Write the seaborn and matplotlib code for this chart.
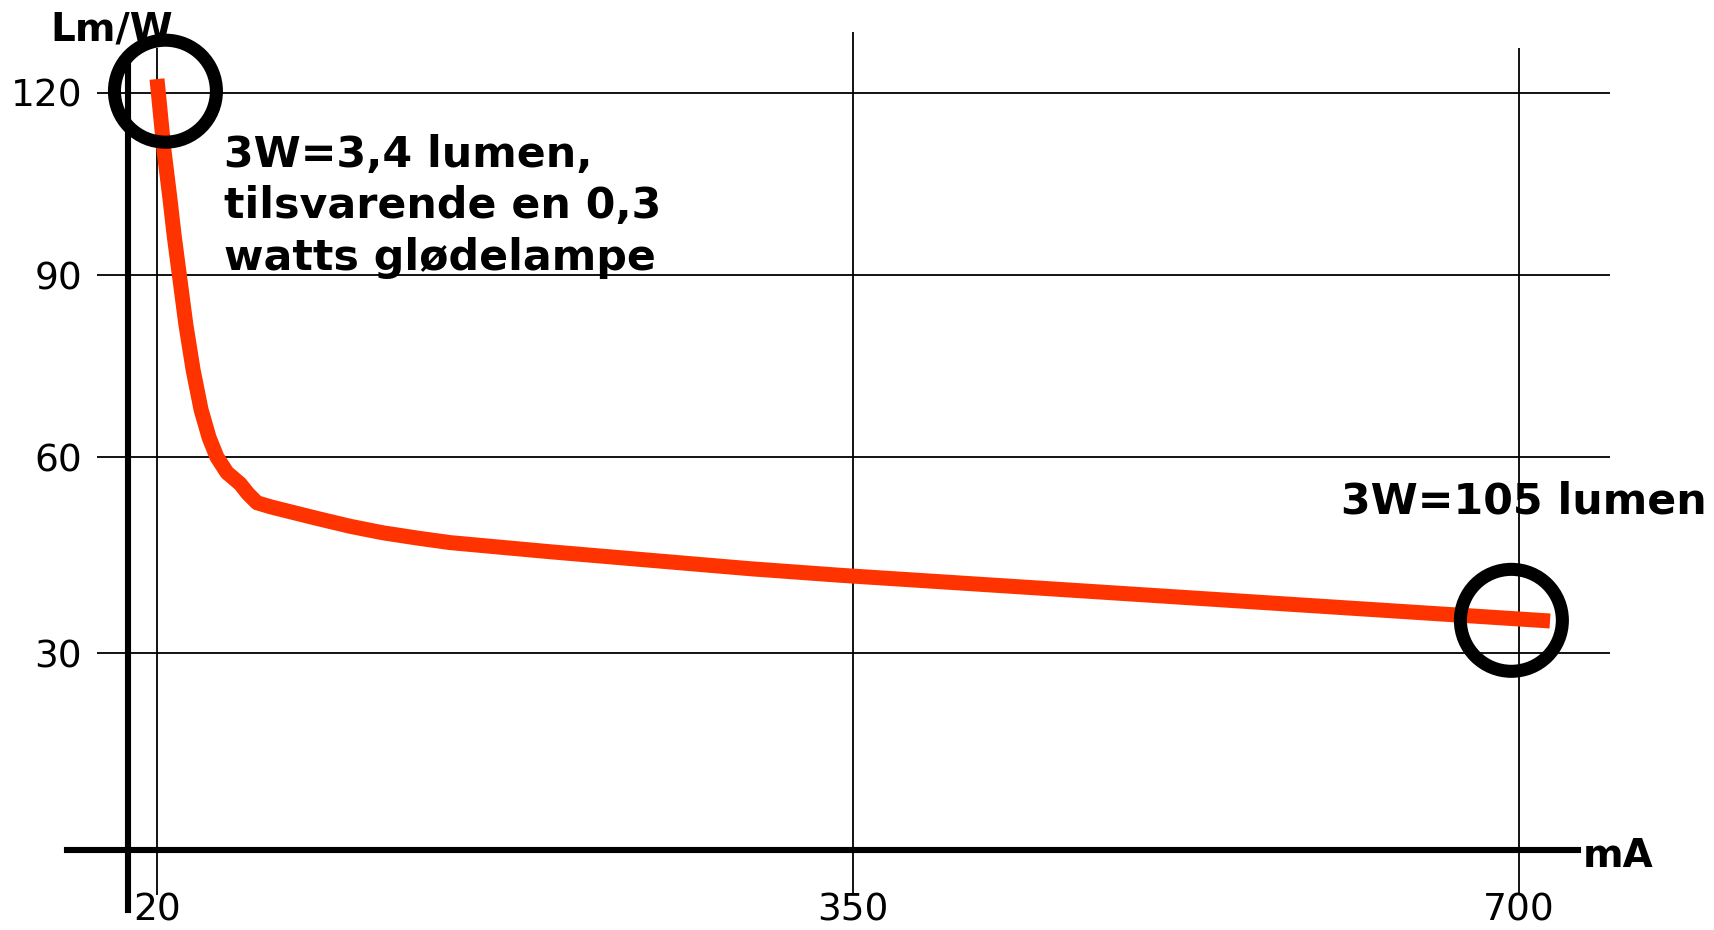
import matplotlib
matplotlib.use("Agg")

import numpy as np
import matplotlib.pyplot as plt
import seaborn as sns

# ==========================
# Data
# ==========================

current_ma = [20, 23.3, 26.2, 28.1, 30.9, 33.7, 37.1, 40.9, 44.7, 48.4, 53.2, 59.4,
              63.1, 67.4, 73.6, 79.7, 95.9, 111.5, 127.1, 143.3, 158.9, 206.3,
              253.7, 301.2, 343.8, 716.3]
lumen_per_watt = [122.3, 110.6, 102.4, 96.6, 89.2, 81.8, 74.4, 67.8, 63.2, 60.0, 57.6, 55.9,
                  54.4, 53.0, 52.4, 51.9, 50.6, 49.4, 48.4, 47.6, 46.9, 45.5,
                  44.2, 42.9, 41.9, 34.9]

x_ticks = [20, 350, 700]
y_ticks = [30, 60, 90, 120]

marked_ma = [24, 696]
marked_lmw = [120.3, 35]

note_low = "3W=3,4 lumen,\ntilsvarende en 0,3\nwatts glødelampe"
note_high = "3W=105 lumen"

RED = "#FF3300"
W, H = 1715, 930

# ==========================
# Uneven axis spacing of the original drawing -> piecewise linear scales
# ==========================

def piecewise(xp, fp):
    xp = np.asarray(xp, float)
    fp = np.asarray(fp, float)

    def f(v):
        v = np.asarray(v, float)
        out = np.interp(v, xp, fp)
        lo = fp[0] + (v - xp[0]) * (fp[1] - fp[0]) / (xp[1] - xp[0])
        hi = fp[-1] + (v - xp[-1]) * (fp[-1] - fp[-2]) / (xp[-1] - xp[-2])
        out = np.where(v < xp[0], lo, out)
        out = np.where(v > xp[-1], hi, out)
        return out
    return f

x_px = [157, 853, 1519]                 # pixel position of 20 / 350 / 700
y_vals = [0] + y_ticks
y_px = [80, 277, 473, 655, 837]         # pixel height (from bottom) of 0..120

fx, fx_inv = piecewise(x_ticks, x_px), piecewise(x_px, x_ticks)
fy, fy_inv = piecewise(y_vals, y_px), piecewise(y_px, y_vals)

# ==========================
# Figure
# ==========================

sns.set_theme(style="white")
plt.rcParams["font.family"] = ["DejaVu Sans"]

fig = plt.figure(figsize=(W / 100, H / 100), dpi=100)
left, right, bottom, top = 97, 1610, 35, 898
ax = fig.add_axes([left / W, bottom / H, (right - left) / W, (top - bottom) / H])

ax.set_xscale("function", functions=(fx, fx_inv))
ax.set_yscale("function", functions=(fy, fy_inv))
ax.set_xlim(float(fx_inv(left)), float(fx_inv(right)))
ax.set_ylim(float(fy_inv(bottom)), float(fy_inv(top)))

# grid
ax.set_yticks(y_ticks)
ax.set_xticks(x_ticks)
ax.grid(False)
for yv in y_ticks:
    ax.axhline(yv, color="black", lw=1.3, zorder=1)
grid_top = [float(fy_inv(930 - 48)), float(fy_inv(930 - 32)), float(fy_inv(930 - 48))]
ax.vlines(x_ticks, float(fy_inv(930 - 895)), grid_top, color="black", lw=1.3, zorder=1)

# thick axes as positioned spines
for s in ["top", "right"]:
    ax.spines[s].set_visible(False)
ax.spines["left"].set_position(("data", float(fx_inv(128))))
ax.spines["left"].set_bounds(float(fy_inv(930 - 910)), float(fy_inv(930 - 55)))
ax.spines["bottom"].set_position(("data", 0))
ax.spines["bottom"].set_bounds(float(fx_inv(67)), float(fx_inv(1578)))
for s in ["left", "bottom"]:
    ax.spines[s].set_linewidth(4.4)
    ax.spines[s].set_color("black")
    ax.spines[s].set_zorder(2)

ax.tick_params(axis="y", length=0, pad=33, labelsize=27, labelcolor="black")
ax.tick_params(axis="x", length=0, pad=30.5, labelsize=27, labelcolor="black")

# curve
sns.lineplot(x=current_ma, y=lumen_per_watt, color=RED, linewidth=10.8,
             solid_capstyle="butt", solid_joinstyle="round", ax=ax, zorder=3)

# circles around the two marked points
ax.scatter(marked_ma, marked_lmw, s=5390, facecolors="none", edgecolors="black",
           linewidths=9.4, zorder=4, clip_on=False)

# annotations (va="baseline" anchors the last line of a multi-line text)
fig.text(224 / W, (H - 270) / H, note_low, fontsize=30.8, fontweight="bold",
         ha="left", va="baseline", linespacing=1.29, color="black")
fig.text(1341 / W, (H - 513) / H, note_high, fontsize=30.8, fontweight="bold",
         ha="left", va="baseline", color="black")

# axis labels
fig.text(50 / W, (H - 40) / H, "Lm/W", fontsize=28, fontweight="bold",
         ha="left", va="baseline", color="black")
fig.text(1583 / W, (H - 867) / H, "mA", fontsize=28, fontweight="bold",
         ha="left", va="baseline", color="black")

ax.set_xlabel("")
ax.set_ylabel("")

fig.savefig("out.png", dpi=100, facecolor="white")
